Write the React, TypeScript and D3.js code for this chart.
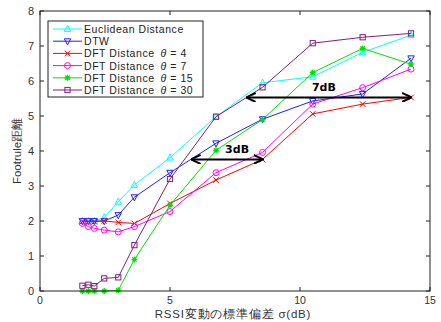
import React from "react";
import * as d3 from "d3";

const sigma = [1.63, 1.86, 2.09, 2.47, 3.01, 3.63, 5.0, 6.77, 8.56, 10.49, 12.41, 14.27];
const euclid = [2.0, 2.0, 2.0, 2.1, 2.55, 3.03, 3.81, 4.98, 5.95, 6.12, 6.82, 7.31];
const dtw = [2.0, 2.0, 2.0, 2.0, 2.17, 2.68, 3.38, 4.22, 4.91, 5.43, 5.63, 6.65];
const dft4 = [1.98, 1.98, 1.98, 2.0, 1.96, 1.93, 2.5, 3.17, 3.76, 5.06, 5.34, 5.53];
const dft7 = [1.93, 1.84, 1.79, 1.74, 1.69, 1.84, 2.27, 3.38, 3.96, 5.34, 5.81, 6.34];
const dft15 = [0.0, 0.0, 0.0, 0.0, 0.02, 0.9, 2.45, 4.02, 4.9, 6.24, 6.93, 6.48];
const dft30 = [0.15, 0.18, 0.14, 0.36, 0.39, 1.31, 3.2, 4.98, 5.82, 7.08, 7.25, 7.36];

const xTicks = [0, 5, 10, 15];
const yTicks = [0, 1, 2, 3, 4, 5, 6, 7, 8];

const series = [
  { name: "Euclidean Distance", theta: "", values: euclid, color: "#00ffff", marker: "tri" },
  { name: "DTW", theta: "", values: dtw, color: "#1f1fff", marker: "tridown" },
  { name: "DFT Distance", theta: "4", values: dft4, color: "#ff0000", marker: "x" },
  { name: "DFT Distance", theta: "7", values: dft7, color: "#ff00ff", marker: "circle" },
  { name: "DFT Distance", theta: "15", values: dft15, color: "#00e000", marker: "star" },
  { name: "DFT Distance", theta: "30", values: dft30, color: "#7f1f7f", marker: "square" },
];

// annotations
const arrows = [
  { x1: 5.83, x2: 8.56, y: 3.76, label: "3dB", lx: 7.58 },
  { x1: 7.95, x2: 14.27, y: 5.53, label: "7dB", lx: 10.92 },
];

function Marker({ type, x, y, color }: { type: string; x: number; y: number; color: string }) {
  const s = 3.2;
  switch (type) {
    case "tri":
      return <path d={`M${x},${y - s - 0.5}L${x + s},${y + s - 0.8}L${x - s},${y + s - 0.8}Z`} fill="none" stroke={color} strokeWidth={1} />;
    case "tridown":
      return <path d={`M${x},${y + s + 0.5}L${x + s},${y - s + 0.8}L${x - s},${y - s + 0.8}Z`} fill="none" stroke={color} strokeWidth={1} />;
    case "x":
      return <path d={`M${x - 2.8},${y - 2.8}L${x + 2.8},${y + 2.8}M${x - 2.8},${y + 2.8}L${x + 2.8},${y - 2.8}`} stroke={color} strokeWidth={1} />;
    case "circle":
      return <circle cx={x} cy={y} r={3} fill="none" stroke={color} strokeWidth={1} />;
    case "star":
      return (
        <path
          d={`M${x - 3},${y}L${x + 3},${y}M${x},${y - 3}L${x},${y + 3}M${x - 2.2},${y - 2.2}L${x + 2.2},${y + 2.2}M${x - 2.2},${y + 2.2}L${x + 2.2},${y - 2.2}`}
          stroke={color}
          strokeWidth={1.2}
        />
      );
    case "square":
      return <rect x={x - 2.6} y={y - 2.6} width={5.2} height={5.2} fill="none" stroke={color} strokeWidth={1} />;
  }
  return null;
}

export default function App() {
  const W = 441, H = 322;
  const left = 40, right = 430, top = 11, bottom = 291;
  const x = d3.scaleLinear().domain([0, 15]).range([left, right]);
  const y = d3.scaleLinear().domain([0, 8]).range([bottom, top]);
  const line = d3.line<number>().x((_, i) => x(sigma[i])).y((d) => y(d));
  const font = "'Liberation Sans', Arial, sans-serif";

  const legX = 48, legY = 21, legW = 155, legH = 76, rowH = 12.2;

  return (
    <svg width={W} height={H} style={{ position: "absolute", left: 0, top: 0, background: "#fff" }} fontFamily={font}>
      <rect x={0} y={0} width={W} height={H} fill="#fff" />
      {series.map((s, k) => (
        <g key={k}>
          <path d={line(s.values) || ""} fill="none" stroke={s.color} strokeWidth={1} />
          {s.values.map((v, i) => (
            <Marker key={i} type={s.marker} x={x(sigma[i])} y={y(v)} color={s.color} />
          ))}
        </g>
      ))}
      <defs>
        <marker id="ah" viewBox="0 0 10 10" refX="9" refY="5" markerWidth="5" markerHeight="5" orient="auto-start-reverse">
          <path d="M0,0.5L9.5,5L0,9.5" fill="none" stroke="#000" strokeWidth={2} />
        </marker>
      </defs>
      {arrows.map((a, i) => (
        <g key={i}>
          <line x1={x(a.x1)} x2={x(a.x2)} y1={y(a.y)} y2={y(a.y)} stroke="#000" strokeWidth={2} markerStart="url(#ah)" markerEnd="url(#ah)" />
          <text x={x(a.lx)} y={y(a.y) - 6} textAnchor="middle" fontSize={11} fontWeight="bold" fontFamily="'DejaVu Sans', sans-serif">
            {a.label}
          </text>
        </g>
      ))}
      <rect x={left} y={top} width={right - left} height={bottom - top} fill="none" stroke="#222" strokeWidth={1} />
      {xTicks.map((t) => (
        <g key={t}>
          <line x1={x(t)} x2={x(t)} y1={bottom} y2={bottom - 4} stroke="#222" />
          <line x1={x(t)} x2={x(t)} y1={top} y2={top + 4} stroke="#222" />
          <text x={x(t)} y={bottom + 13} textAnchor="middle" fontSize={10.5} fill="#333">{t}</text>
        </g>
      ))}
      {yTicks.map((t) => (
        <g key={t}>
          <line x1={left} x2={left + 4} y1={y(t)} y2={y(t)} stroke="#222" />
          <line x1={right} x2={right - 4} y1={y(t)} y2={y(t)} stroke="#222" />
          <text x={left - 6} y={y(t) + 4} textAnchor="end" fontSize={11} fill="#333">{t}</text>
        </g>
      ))}
      <text x={233} y={318} textAnchor="middle" fontSize={11.5} letterSpacing={0.8} fill="#333">RSSI変動の標準偏差 σ(dB)</text>
      <text transform="translate(21,151) rotate(-90)" textAnchor="middle" fontSize={11.5} fill="#333">Footrule距離</text>
      <rect x={legX} y={legY} width={legW} height={legH} fill="#fff" stroke="#222" strokeWidth={1} />
      {series.map((s, k) => {
        const ry = legY + 8 + k * rowH;
        return (
          <g key={k}>
            <line x1={legX + 5} x2={legX + 34} y1={ry} y2={ry} stroke={s.color} strokeWidth={1} />
            <Marker type={s.marker} x={legX + 19.5} y={ry} color={s.color} />
            <text x={legX + 36} y={ry + 4} fontSize={10.5} letterSpacing={0.55} fill="#222">
              {s.name}
              {s.theta && (
                <>
                  <tspan dx={6} fontStyle="italic">θ</tspan>
                  <tspan> = {s.theta}</tspan>
                </>
              )}
            </text>
          </g>
        );
      })}
    </svg>
  );
}
